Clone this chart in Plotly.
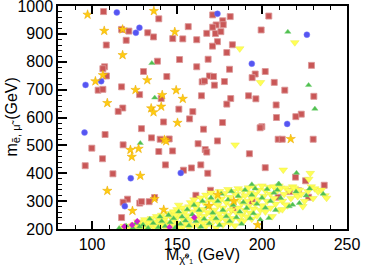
import plotly.graph_objects as go

# ---------------- data ----------------
red_x = [106.8,139.3,156.6,171,173,117.4,121.7,132.8,136.2,120.1,108.4,147.5,153.4,161.6,167.5,172.6,173.8,170.9,
         138.5,151.5,168.3,107.4,106.4,130.3,161.6,108.5,144,169.1,171.5,164.8,166.2,172,103.6,106.4,117.4,128,140.7,
         164.4,118.1,115.4,151.1,159.3,142.1,157.4,129.1,165.6,
         181.3,204,176.9,177.2,171,175.8,199.5,182.6,179.3,180.9,201.9,196,194.2,229.1,177.9,207.2,213.4,230.5,181.6,
         192.1,196.4,179.3,208.3,223.1,219.9,208.5,176.8,199.9,198.9,
         107.7,135,140.1,145.4,118.3,99.9,162.4,173.8,166.6,167.5,139.3,147.4,106.2,96,143.2,164,158.5,153.8,112.3,
         168.1,161.1,169.7,136.8,120.9,118.3,128.1,129.1,133.6,117.4,
         209.5,211.9,230.1,192.6,201.9,219.7,225.6,236.6,221.5,216.2,209.5,227.4,194.2,183]
red_y = [980,954,926,968,932,916,910,904,889,877,860,883,882,879,902,901,872,856,
         802,808,809,782,775,765,782,749,747,749,747,728,731,716,698,701,710,682,668,
         678,634,622,630,621,584,595,560,558,
         962,964,947,933,924,908,914,861,833,773,765,756,743,787,729,726,698,676,668,
         678,667,648,645,612,603,600,582,567,563,
         539,527,522,523,502,490,506,516,485,476,478,480,452,427,430,430,419,411,398,
         400,321,339,313,307,296,293,298,298,241,
         522,522,522,470,420,386,373,357,337,334,314,314,299,270]

blue_x = [114.6,127.9,125.8,173.8,105.4,96.2,194,226.4,214.8,95.6,152.2,122.8,119.3]
blue_y = [977,922,904,972,730,717,793,897,577,546,401,382,282]

star_x = [97.4,136.4,107.2,118,148.7,118,106.4,102,132.5,125.6,149.5,141.3,153.4,109,134.8,140.7,136.2,150.3,
          142.6,143.6,122.6,127.4,123.4,128.4,109,136.8,123.8,142.2,168.7,216.9,174,183.4,197.5]
star_y = [969,982,911,916,907,824,752,730,734,699,698,681,667,652,633,639,619,581,
          520,515,484,488,459,391,337,308,265,269,283,523,323,300,214]

yellow_x = [186.9,219.3,199.1,184.2,212.5,228.4,227.5,
            118,121,123,124,119,125,122,
            126,127,128,129,130,131,132,133,134,134,127,131,
            135,136,137,137,138,139,140,140,141,142,143,144,144,145,142,138,
            146,146,147,148,148,149,150,150,151,152,152,153,154,154,155,149,151,
            156,156,157,157,158,158,159,160,160,161,161,162,162,163,163,164,164,165,165,
            166,166,167,167,168,168,169,169,170,170,171,171,172,172,173,173,174,174,175,175,
            176,176,177,177,178,178,179,179,180,180,181,181,182,182,183,183,184,184,185,185,
            186,186,187,187,188,188,189,189,190,190,191,191,192,192,193,193,194,194,195,195,
            196,196,197,198,198,199,200,200,201,202,202,203,204,205,205,206,207,207,208,209,210,210,
            211,212,213,214,215,216,217,218,219,220,221,222,223,224,225,214,212,
            227,229,231,233,235,237,238,230]
yellow_y = [847,869,726,502,412,400,379,
            203,208,205,212,210,216,201,
            204,210,219,206,224,213,202,228,209,220,226,234,
            238,212,203,226,245,218,207,233,250,214,240,224,204,256,230,210,
            217,246,205,262,232,213,270,241,222,204,255,276,233,212,264,250,286,
            218,248,280,205,295,234,262,213,305,242,278,225,290,208,256,312,236,270,220,
            295,246,210,322,260,228,305,282,216,330,250,236,298,268,204,318,226,286,335,255,
            242,308,215,276,328,262,230,295,342,250,314,220,284,268,335,238,300,212,325,258,
            276,345,232,312,292,250,227,338,268,320,244,300,348,282,258,330,236,310,352,272,
            290,325,248,340,305,268,355,284,318,262,338,300,350,276,326,245,352,310,290,338,268,355,
            347,300,325,347,284,338,310,352,347,325,317,340,325,281,300,287,270,
            335,352,345,334,340,320,311,310]

green_x = [135.2,136.9,215.2,227.4,231.1,128.4,220.3,194,209.7,
           116,120,124,126,128,130,133,134,136,139,140,141,143,145,146,148,149,151,152,153,155,156,157,159,160,
           161,163,164,165,166,168,169,170,171,173,174,175,176,177,179,180,181,182,183,185,186,187,188,189,190,
           191,193,194,195,196,197,199,200,202,203,204,205,207,208,210,209,211,216,218,220,222,226,228,236]
green_y = [795,671,907,716,631,508,401,360,362,
           203,212,204,221,208,215,204,236,221,206,244,228,210,250,224,238,205,262,218,244,230,270,212,252,286,
           228,268,208,300,236,280,220,312,258,238,300,214,326,268,245,305,228,335,286,242,318,262,218,296,340,
           275,238,322,256,345,290,234,312,276,343,239,300,330,268,361,340,311,281,287,334,293,320,345,326]

mag_x = [119,123.6,126.6,145.6,160.2]
mag_y = [209,214,228,206,241]

x_ticks = [100, 150, 200, 250]
x_title = "M<sub>χ̃⁰₁</sub>\u00a0(GeV)"
y_title = "m<sub>ẽ, μ̃</sub>\u00a0(GeV)"

# ---------------- figure ----------------
fig = go.Figure()
fig.add_trace(go.Scatter(x=red_x, y=red_y, mode="markers",
                         marker=dict(symbol="square", size=6, color="#c95757",
                                     line=dict(width=1, color="rgba(220,150,150,0.85)"))))
fig.add_trace(go.Scatter(x=yellow_x, y=yellow_y, mode="markers",
                         marker=dict(symbol="triangle-down", size=7.5, color="#ffff55",
                                     line=dict(width=0.5, color="rgba(235,235,70,0.9)"))))
fig.add_trace(go.Scatter(x=green_x, y=green_y, mode="markers",
                         marker=dict(symbol="triangle-up", size=5.5, color="#4fbf4f",
                                     line=dict(width=0.5, color="rgba(120,210,120,0.9)"))))
fig.add_trace(go.Scatter(x=blue_x, y=blue_y, mode="markers",
                         marker=dict(symbol="circle", size=6, color="#5555f2",
                                     line=dict(width=0.5, color="rgba(130,130,250,0.9)"))))
fig.add_trace(go.Scatter(x=star_x, y=star_y, mode="markers",
                         marker=dict(symbol="star", size=7, color="#ffcc11",
                                     line=dict(width=0.5, color="#e8a800"))))
fig.add_trace(go.Scatter(x=mag_x, y=mag_y, mode="markers",
                         marker=dict(symbol="diamond", size=5, color="#cc22cc")))

font_family = "Liberation Sans, Arial, sans-serif"
fig.update_layout(
    width=366, height=274,
    margin=dict(l=58, r=19, t=6, b=45, autoexpand=False),
    paper_bgcolor="white", plot_bgcolor="white",
    showlegend=False,
    font=dict(family=font_family, color="black", size=16),
)
fig.update_xaxes(
    range=[80, 250], tickvals=x_ticks,
    ticks="inside", ticklen=8, tickwidth=1.5, tickcolor="black",
    minor=dict(dtick=10, tick0=0, ticks="inside", ticklen=4, tickwidth=1, tickcolor="black", showgrid=False),
    showline=True, linewidth=1.5, linecolor="black", mirror="ticks",
    showgrid=False, zeroline=False, automargin=False,
    tickfont=dict(size=16), ticklabeloverflow="allow",
)
fig.update_yaxes(
    range=[200, 1000], dtick=100, tick0=0,
    ticks="inside", ticklen=9, tickwidth=1.5, tickcolor="black",
    minor=dict(dtick=20, tick0=0, ticks="inside", ticklen=4, tickwidth=1, tickcolor="black", showgrid=False),
    showline=True, linewidth=1.5, linecolor="black", mirror=True,
    showgrid=False, zeroline=False, automargin=False,
    tickfont=dict(size=16), ticklabeloverflow="allow",
)
fig.add_annotation(text=x_title, xref="paper", yref="paper", x=0.5, y=0,
                   xanchor="center", yanchor="top", yshift=-15, showarrow=False,
                   font=dict(size=16))
fig.add_annotation(text=y_title, xref="paper", yref="paper", x=0, y=0.5,
                   xanchor="center", yanchor="middle", xshift=-46, textangle=-90,
                   showarrow=False, font=dict(size=16))

fig.write_html("out.html", config={"displayModeBar": False},
               post_script="document.body.style.margin='0';document.body.style.padding='0';"
                           "document.documentElement.style.overflow='hidden';")
